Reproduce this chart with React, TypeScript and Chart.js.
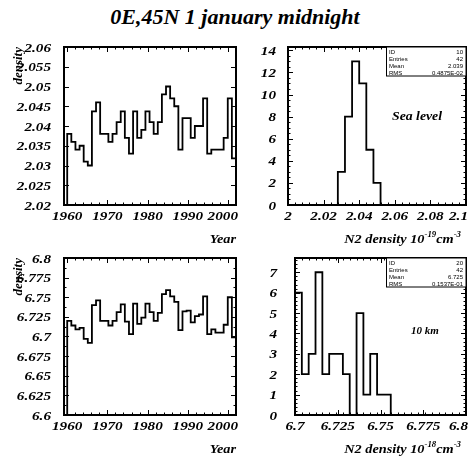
import { useEffect, useRef } from "react";
import { Chart, registerables } from "chart.js";

Chart.register(...registerables);

const PAGE_W = 470;
const PAGE_H = 459;
const SERIF = '"Liberation Serif", "DejaVu Serif", serif';
const SANS = '"Liberation Sans", "DejaVu Sans", sans-serif';

// ---------------------------------------------------------------------------
// Yearly N2 density at 0E,45N, 1 January midnight (one bin per year span)
const YEAR_FROM = 1960;
const YEAR_TO = 2002;

const seaLevelByYear = [
  2.038, 2.036, 2.034, 2.035, 2.031, 2.03, 2.0437, 2.046, 2.038, 2.038,
  2.036, 2.038, 2.041, 2.0437, 2.037, 2.033, 2.0437, 2.037, 2.039, 2.0437,
  2.041, 2.038, 2.041, 2.048, 2.05, 2.047, 2.045, 2.034, 2.042, 2.042,
  2.037, 2.04, 2.04, 2.047, 2.033, 2.034, 2.034, 2.034, 2.037, 2.047,
  2.0318,
];

const tenKmByYear = [
  6.72, 6.714, 6.709, 6.711, 6.697, 6.692, 6.74, 6.746, 6.72, 6.72,
  6.714, 6.72, 6.731, 6.741, 6.719, 6.703, 6.742, 6.716, 6.724, 6.742,
  6.731, 6.72, 6.73, 6.754, 6.759, 6.751, 6.744, 6.708, 6.732, 6.733,
  6.718, 6.726, 6.728, 6.751, 6.703, 6.709, 6.705, 6.705, 6.715, 6.75,
  6.699,
];

// Distributions of the yearly values (25 equal bins over each range)
const seaLevelHistRange = [2.0, 2.1];
const seaLevelCounts = [
  0, 0, 0, 0, 0, 0, 0, 3, 8, 13, 11, 5, 2, 0, 0, 0, 0, 0, 0, 0, 0, 0, 0, 0, 0,
];
const tenKmHistRange = [6.7, 6.8];
const tenKmCounts = [
  6, 2, 3, 7, 2, 3, 3, 2, 0, 5, 1, 3, 1, 1, 0, 0, 0, 0, 0, 0, 0, 0, 0, 0, 0,
];

// Tick labels
const yearTicks = [1960, 1970, 1980, 1990, 2000];
const seaLevelTicks = [2.02, 2.025, 2.03, 2.035, 2.04, 2.045, 2.05, 2.055, 2.06];
const tenKmTicks = [6.6, 6.625, 6.65, 6.675, 6.7, 6.725, 6.75, 6.775, 6.8];
const seaCountTicks = [0, 2, 4, 6, 8, 10, 12, 14];
const tenKmCountTicks = [0, 1, 2, 3, 4, 5, 6, 7];
const seaDensityTicks = [2, 2.02, 2.04, 2.06, 2.08, 2.1];
const tenKmDensityTicks = [6.7, 6.725, 6.75, 6.775, 6.8];

// Statistics boxes
const seaLevelStats = [
  ["ID", "10"],
  ["Entries", "42"],
  ["Mean", "2.039"],
  ["RMS", "0.4875E-02"],
];
const tenKmStats = [
  ["ID", "20"],
  ["Entries", "42"],
  ["Mean", "6.725"],
  ["RMS", "0.1537E-01"],
];

// ---------------------------------------------------------------------------

type Pt = { x: number; y: number };

// Outline of a histogram: rises from the base at the first edge, steps across
// every bin and falls back to the base at the last edge.
function outline(edges: number[], values: number[], base: number): Pt[] {
  const pts: Pt[] = [{ x: edges[0], y: base }];
  values.forEach((v, i) => pts.push({ x: edges[i + 1], y: v }));
  pts.push({ x: edges[values.length], y: base });
  return pts;
}

function evenEdges(lo: number, hi: number, n: number): number[] {
  const out: number[] = [];
  for (let i = 0; i <= n; i++) out.push(lo + ((hi - lo) * i) / n);
  return out;
}

function steps(lo: number, hi: number, step: number): number[] {
  const out: number[] = [];
  const n = Math.round((hi - lo) / step);
  for (let i = 0; i <= n; i++) out.push(+(lo + i * step).toFixed(6));
  return out;
}

const fmt = (v: number) => String(+(+v).toFixed(4));

type Panel = {
  frame: { left: number; top: number; right: number; bottom: number };
  xRange: [number, number];
  yRange: [number, number];
  xTicks: number[];
  yTicks: number[];
  xMinor: number[];
  yMinor: number[];
  yLabelRight: number;
  points: Pt[];
  xTitle: "year" | "density";
  exponent?: string;
  yTitle?: string;
  note?: { text: string; x: number; y: number; size: number };
  stats?: string[][];
};

const seaYearEdges = evenEdges(YEAR_FROM, YEAR_TO, seaLevelByYear.length);
const kmYearEdges = evenEdges(YEAR_FROM, YEAR_TO, tenKmByYear.length);

const PANELS: Panel[] = [
  {
    frame: { left: 64, top: 47, right: 236, bottom: 205 },
    xRange: [1959.2, 2002],
    yRange: [2.02, 2.06],
    xTicks: yearTicks,
    yTicks: seaLevelTicks,
    xMinor: steps(1960, 2002, 2),
    yMinor: [],
    yLabelRight: 51,
    points: outline(seaYearEdges, seaLevelByYear, 0),
    xTitle: "year",
    yTitle: "density",
  },
  {
    frame: { left: 288, top: 47, right: 466, bottom: 205 },
    xRange: [seaLevelHistRange[0], seaLevelHistRange[1]],
    yRange: [0, 14.3],
    xTicks: seaDensityTicks,
    yTicks: seaCountTicks,
    xMinor: steps(2.0, 2.1, 0.004),
    yMinor: steps(0, 14, 0.5),
    yLabelRight: 276,
    points: outline(
      evenEdges(seaLevelHistRange[0], seaLevelHistRange[1], seaLevelCounts.length),
      seaLevelCounts,
      0
    ),
    xTitle: "density",
    exponent: "-19",
    note: { text: "Sea level", x: 392, y: 120, size: 12.5 },
    stats: seaLevelStats,
  },
  {
    frame: { left: 64, top: 258, right: 236, bottom: 415 },
    xRange: [1959.2, 2002],
    yRange: [6.6, 6.8],
    xTicks: yearTicks,
    yTicks: tenKmTicks,
    xMinor: steps(1960, 2002, 2),
    yMinor: steps(6.6, 6.8, 0.0125),
    yLabelRight: 51,
    points: outline(kmYearEdges, tenKmByYear, 0),
    xTitle: "year",
    yTitle: "density",
  },
  {
    frame: { left: 295, top: 258, right: 466, bottom: 415 },
    xRange: [tenKmHistRange[0], tenKmHistRange[1]],
    yRange: [0, 7.7],
    xTicks: tenKmDensityTicks,
    yTicks: tenKmCountTicks,
    xMinor: steps(6.7, 6.8, 0.004),
    yMinor: steps(0, 7.6, 0.2),
    yLabelRight: 277,
    points: outline(
      evenEdges(tenKmHistRange[0], tenKmHistRange[1], tenKmCounts.length),
      tenKmCounts,
      0
    ),
    xTitle: "density",
    exponent: "-18",
    note: { text: "10 km", x: 411, y: 334, size: 10 },
    stats: tenKmStats,
  },
];

const Y_SCALE_W = 56;
const X_SCALE_H = 30;
const LABEL_FONT = `bold italic 13px ${SERIF}`;
const LABEL_STRETCH = 1.17;

// Draws text with a horizontal stretch; returns the drawn width.
function stretchedText(
  ctx: CanvasRenderingContext2D,
  text: string,
  x: number,
  y: number,
  align: "left" | "center" | "right",
  font: string,
  sx: number,
  maxRight = Infinity
): number {
  ctx.save();
  ctx.font = font;
  const w = ctx.measureText(text).width * sx;
  let x0 = align === "center" ? x - w / 2 : align === "right" ? x - w : x;
  if (x0 + w > maxRight) x0 = maxRight - w;
  ctx.translate(x0, y);
  ctx.scale(sx, 1);
  ctx.textAlign = "left";
  ctx.textBaseline = "alphabetic";
  ctx.fillText(text, 0, 0);
  ctx.restore();
  return w;
}

function decorations(p: Panel) {
  return {
    id: "pawFrame",
    afterDraw(chart: any) {
      const ctx: CanvasRenderingContext2D = chart.ctx;
      const xs = chart.scales.x;
      const ys = chart.scales.y;
      const { left, top, right, bottom } = chart.chartArea;
      ctx.save();
      ctx.strokeStyle = "#000";
      ctx.fillStyle = "#000";

      // inward tick marks on all four sides
      ctx.lineWidth = 1;
      ctx.beginPath();
      const xMajor = new Set(p.xTicks.map((v) => fmt(v)));
      const yMajor = new Set(p.yTicks.map((v) => fmt(v)));
      const xAll = Array.from(new Set([...p.xMinor, ...p.xTicks]));
      const yAll = Array.from(new Set([...p.yMinor, ...p.yTicks]));
      xAll.forEach((v) => {
        if (v < p.xRange[0] || v > p.xRange[1]) return;
        const px = Math.round(xs.getPixelForValue(v)) + 0.5;
        const len = xMajor.has(fmt(v)) ? 5 : 2.5;
        ctx.moveTo(px, bottom);
        ctx.lineTo(px, bottom - len);
        ctx.moveTo(px, top);
        ctx.lineTo(px, top + len);
      });
      yAll.forEach((v) => {
        if (v < p.yRange[0] || v > p.yRange[1]) return;
        const py = Math.round(ys.getPixelForValue(v)) + 0.5;
        const len = yMajor.has(fmt(v)) ? 5 : 2.5;
        ctx.moveTo(left, py);
        ctx.lineTo(left + len, py);
        ctx.moveTo(right, py);
        ctx.lineTo(right - len, py);
      });
      ctx.stroke();

      // frame
      ctx.lineWidth = 2;
      ctx.strokeRect(left, top, right - left, bottom - top);

      // tick labels
      p.xTicks.forEach((v) => {
        stretchedText(ctx, fmt(v), xs.getPixelForValue(v), bottom + 15, "center", LABEL_FONT, LABEL_STRETCH, right + 2);
      });
      p.yTicks.forEach((v) => {
        stretchedText(ctx, fmt(v), p.yLabelRight, ys.getPixelForValue(v) + 4.5, "right", LABEL_FONT, LABEL_STRETCH);
      });

      // statistics box
      if (p.stats) {
        const bx = right - 80;
        const bh = 29;
        ctx.fillStyle = "#fff";
        ctx.fillRect(bx, top, right - bx, bh);
        ctx.lineWidth = 1;
        ctx.strokeRect(bx + 0.5, top, right - bx - 0.5, bh);
        ctx.fillStyle = "#000";
        ctx.font = `6px ${SANS}`;
        ctx.textBaseline = "alphabetic";
        p.stats.forEach(([k, v], i) => {
          const y = top + 6.5 + i * 7;
          ctx.textAlign = "left";
          ctx.fillText(k, bx + 3, y);
          ctx.textAlign = "right";
          ctx.fillText(v, right - 3, y);
        });
      }

      // text inside the plot
      if (p.note) {
        stretchedText(ctx, p.note.text, p.note.x, p.note.y, "left", `bold italic ${p.note.size}px ${SERIF}`, 1.1);
      }

      // axis titles
      const base = bottom + 38;
      if (p.xTitle === "year") {
        stretchedText(ctx, "Year", right, base, "right", `bold italic 13px ${SERIF}`, 1.1);
      } else {
        const big = `bold italic 13px ${SERIF}`;
        const small = `bold italic 8px ${SERIF}`;
        const parts: [string, string, number][] = [
          ["N2 density 10", big, 0],
          [p.exponent || "", small, -6],
          ["cm", big, 0],
          ["-3", small, -6],
        ];
        const sx = 1.1;
        let w = 0;
        parts.forEach(([t, f]) => {
          ctx.font = f;
          w += ctx.measureText(t).width * sx;
        });
        let x = right - 5 - w;
        parts.forEach(([t, f, dy]) => {
          x += stretchedText(ctx, t, x, base + dy, "left", f, sx);
        });
      }
      if (p.yTitle) {
        ctx.save();
        ctx.translate(22, top);
        ctx.rotate(-Math.PI / 2);
        ctx.font = `bold italic 13px ${SERIF}`;
        ctx.textAlign = "right";
        ctx.textBaseline = "alphabetic";
        ctx.fillText(p.yTitle, 0, 0);
        ctx.restore();
      }
      ctx.restore();
    },
  };
}

function buildConfig(p: Panel): any {
  const f = p.frame;
  return {
    type: "line",
    data: {
      datasets: [
        {
          data: p.points,
          stepped: "after",
          borderColor: "#000",
          borderWidth: 1.8,
          pointRadius: 0,
          fill: false,
        },
      ],
    },
    options: {
      responsive: false,
      animation: false,
      devicePixelRatio: 1,
      events: [],
      layout: {
        padding: {
          left: f.left - Y_SCALE_W,
          top: f.top,
          right: PAGE_W - f.right,
          bottom: PAGE_H - f.bottom - X_SCALE_H,
        },
      },
      plugins: {
        legend: { display: false },
        tooltip: { enabled: false },
        title: { display: false },
      },
      scales: {
        x: {
          type: "linear",
          min: p.xRange[0],
          max: p.xRange[1],
          grid: { display: false, drawTicks: false },
          border: { display: false },
          ticks: { display: false },
          afterBuildTicks: (s: any) => {
            s.ticks = p.xTicks.map((v) => ({ value: v }));
          },
          afterFit: (s: any) => {
            s.height = X_SCALE_H;
            s.paddingLeft = 0;
            s.paddingRight = 0;
          },
        },
        y: {
          type: "linear",
          min: p.yRange[0],
          max: p.yRange[1],
          grid: { display: false, drawTicks: false },
          border: { display: false },
          ticks: { display: false },
          afterBuildTicks: (s: any) => {
            s.ticks = p.yTicks.map((v) => ({ value: v }));
          },
          afterFit: (s: any) => {
            s.width = Y_SCALE_W;
            s.paddingTop = 0;
            s.paddingBottom = 0;
          },
        },
      },
    },
    plugins: [decorations(p)],
  };
}

export default function App() {
  const refs = useRef<(HTMLCanvasElement | null)[]>([]);

  useEffect(() => {
    const charts = PANELS.map((p, i) => new Chart(refs.current[i] as HTMLCanvasElement, buildConfig(p)));
    return () => charts.forEach((c) => c.destroy());
  }, []);

  return (
    <div
      style={{
        position: "fixed",
        left: 0,
        top: 0,
        width: PAGE_W,
        height: PAGE_H,
        background: "#fff",
        overflow: "hidden",
      }}
    >
      <div
        style={{
          position: "absolute",
          left: 0,
          top: 2,
          width: PAGE_W,
          textAlign: "center",
          font: `bold italic 22px ${SERIF}`,
          lineHeight: "30px",
          color: "#000",
        }}
      >
        0E,45N 1 january midnight
      </div>
      {PANELS.map((_, i) => (
        <canvas
          key={i}
          ref={(el) => {
            refs.current[i] = el;
          }}
          width={PAGE_W}
          height={PAGE_H}
          style={{ position: "absolute", left: 0, top: 0 }}
        />
      ))}
    </div>
  );
}
